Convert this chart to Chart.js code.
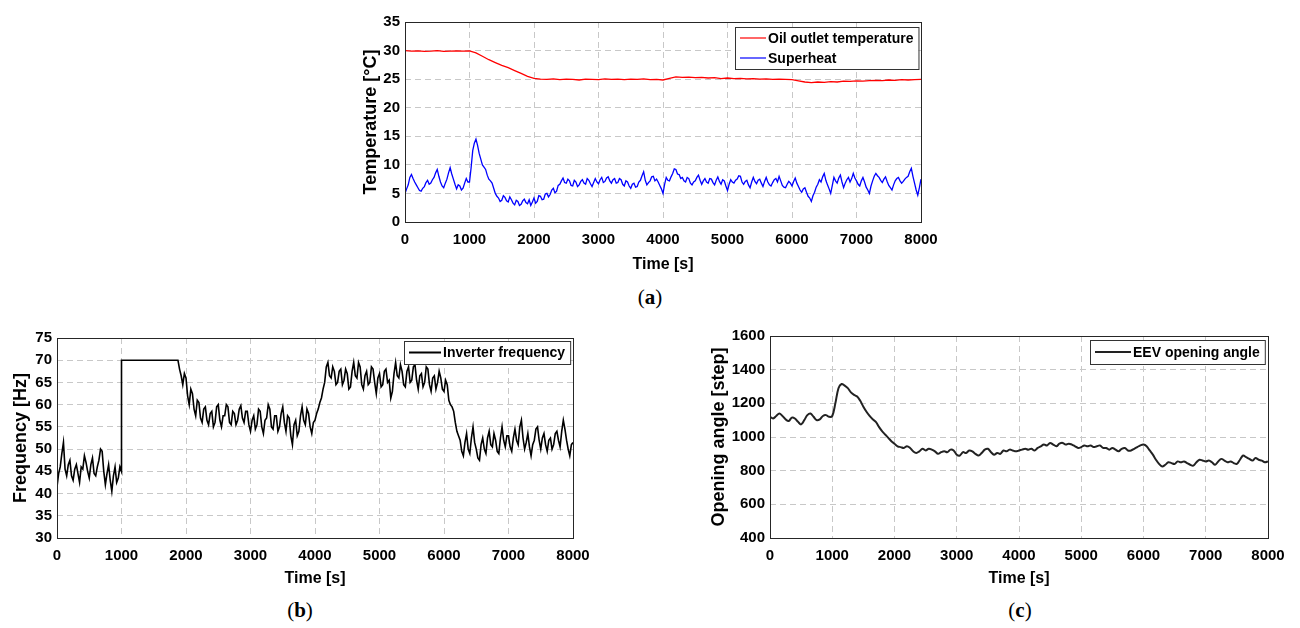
<!DOCTYPE html>
<html>
<head>
<meta charset="utf-8">
<script src="https://cdn.jsdelivr.net/npm/chart.js@4"></script>
<style>
    body { margin: 0; background: #fff; width: 1300px; height: 628px; position: relative; overflow: hidden; }
    canvas { position: absolute; }
    .caption { position: absolute; font-family: "Liberation Serif", "DejaVu Serif", serif; font-size: 21px; color: #000; transform: translate(-50%, -50%); }
</style>
</head>
<body>
<canvas id="tempCanvas" width="595" height="276" style="left:356px; top:2px;"></canvas>
<canvas id="freqCanvas" width="597" height="274" style="left:6px; top:318px;"></canvas>
<canvas id="eevCanvas" width="594" height="276" style="left:704px; top:316px;"></canvas>
<div class="caption" style="left:650px; top:297px;">(<b>a</b>)</div>
<div class="caption" style="left:300px; top:610px;">(<b>b</b>)</div>
<div class="caption" style="left:1020px; top:610px;">(<b>c</b>)</div>

<script>
// time grids [s]
const time25 = Array.from({ length: 321 }, (_, i) => i * 25);
const time50 = Array.from({ length: 161 }, (_, i) => i * 50);
const time100 = Array.from({ length: 81 }, (_, i) => i * 100);
// frequency jumps at 1000 s, so 1000 appears twice
const freqTime = [...time25.slice(0, 41), 1000, ...time25.slice(41)];

const xTicks = [0, 1000, 2000, 3000, 4000, 5000, 6000, 7000, 8000];

// (a) oil outlet temperature [°C], every 100 s
const oilTemp = [
    30.0, 29.9, 29.95, 29.85, 29.9, 30.0, 29.85, 29.9, 29.95, 29.9,
    29.95, 29.6, 29.0, 28.4, 27.9, 27.4, 27.0, 26.5, 26.0, 25.5,
    25.15, 25.0, 24.95, 25.05, 24.9, 25.0, 24.95, 24.85, 25.0, 24.95,
    24.9, 25.05, 24.95, 25.0, 24.9, 25.0, 24.95, 25.05, 24.9, 24.95,
    24.85, 25.15, 25.4, 25.3, 25.35, 25.25, 25.3, 25.2, 25.25, 25.1,
    25.2, 25.1, 25.15, 25.05, 25.1, 25.0, 25.05, 24.95, 25.0, 24.95,
    24.9, 24.7, 24.5, 24.4, 24.5, 24.45, 24.55, 24.5, 24.65, 24.6,
    24.7, 24.65, 24.75, 24.8, 24.75, 24.85, 24.8, 24.9, 24.85, 24.9,
    24.95
];

// (a) superheat [°C], every 25 s
const superheat = [
    5.0, 5.8, 6.5, 7.8, 8.3, 7.6, 7.0, 6.5, 6.0, 5.5, 5.4, 5.9, 6.2, 6.9, 7.3, 6.6, 6.8, 7.4, 7.8, 8.6,
    9.2, 8.0, 7.0, 6.3, 6.0, 6.8, 7.5, 8.6, 9.5, 8.4, 7.5, 6.6, 5.8, 6.5, 6.3, 5.6, 5.9, 6.8, 7.6, 7.0,
    7.0, 9.5, 12.5, 13.8, 14.5, 13.4, 12.0, 11.0, 10.0, 9.6, 9.2, 8.2, 7.5, 7.2, 6.8, 5.9, 5.0, 4.5, 4.2, 3.6,
    3.8, 4.6, 4.3, 3.7, 3.5, 4.4, 3.9, 3.3, 3.0, 3.8, 3.6, 2.9, 3.1, 3.7, 4.0, 3.4, 3.2, 3.9, 2.9, 3.5,
    4.2, 3.3, 3.6, 4.6, 4.5, 3.9, 4.0, 4.9, 5.0, 4.4, 4.8, 5.6, 5.9, 5.1, 5.4, 6.4, 6.6, 7.2, 7.7, 6.9,
    6.8, 7.5, 7.2, 6.4, 6.3, 7.3, 7.0, 6.2, 6.5, 7.1, 7.4, 6.8, 6.6, 7.6, 7.3, 6.7, 6.2, 6.9, 7.6, 7.0,
    6.7, 7.4, 7.8, 6.9, 7.1, 7.7, 7.9, 7.2, 6.8, 7.4, 7.6, 6.8, 6.9, 7.6, 7.4, 6.6, 6.3, 7.2, 7.0, 6.3,
    5.9, 6.6, 6.8, 6.1, 6.2, 7.0, 7.3, 8.1, 8.8, 7.3, 6.5, 6.9, 7.2, 7.9, 8.0, 7.2, 7.5, 7.0, 6.4, 5.8,
    5.0, 6.6, 7.8, 7.3, 7.2, 7.9, 8.5, 9.3, 9.2, 8.4, 8.3, 7.6, 7.8, 7.2, 7.0, 7.8, 7.6, 6.8, 6.5, 7.0,
    7.2, 7.8, 8.2, 7.3, 6.6, 7.2, 7.6, 7.0, 6.8, 7.6, 7.5, 6.9, 6.5, 7.3, 7.9, 7.1, 6.6, 7.4, 7.2, 6.3,
    5.5, 6.6, 7.4, 7.0, 6.8, 7.3, 7.5, 8.1, 8.0, 7.0, 6.6, 7.1, 7.3, 6.5, 6.0, 7.0, 7.8, 7.1, 6.7, 7.3,
    7.5, 6.8, 6.2, 7.1, 7.8, 7.0, 6.5, 6.3, 6.9, 7.4, 7.6, 7.0, 8.0, 7.2, 6.4, 6.1, 6.0, 6.6, 7.1, 6.8,
    6.3, 7.1, 7.7, 6.8, 6.2, 5.6, 5.2, 5.8, 6.0, 5.2, 4.5, 4.2, 3.6, 4.6, 5.2, 6.1, 6.6, 7.4, 7.0, 7.9,
    8.5, 7.3, 6.5, 5.8, 5.0, 6.4, 7.8, 7.2, 6.8, 7.7, 8.2, 7.0, 6.0, 6.8, 7.4, 7.8, 7.0, 7.6, 8.5, 7.7,
    7.2, 6.6, 6.3, 7.2, 7.8, 7.0, 6.1, 5.6, 5.0, 6.3, 7.2, 8.0, 8.5, 8.1, 7.8, 7.3, 6.9, 7.5, 7.9, 7.1,
    6.4, 6.0, 5.6, 6.5, 7.2, 7.6, 7.8, 7.2, 6.8, 7.1, 7.5, 7.8, 8.0, 8.8, 9.4, 8.0, 6.8, 5.6, 4.7, 6.0,
    7.5
];

// (b) inverter frequency [Hz], on freqTime
const inverterFreq = [
    41.5, 44.5, 46, 49, 51.5, 45.5, 44, 46.5, 47.5, 44, 43, 45.5, 46.5, 44.5, 42.5, 46, 45.5, 48.5, 47, 45,
    43.5, 46.5, 48, 44.5, 44, 46, 47.5, 50, 49.5, 45, 42, 44.5, 46.5, 43, 40.5, 44, 46, 42.5, 43.5, 46,
    45,
    70, 70, 70, 70, 70, 70, 70, 70, 70, 70, 70, 70, 70, 70, 70, 70, 70, 70,
    70, 70, 70, 70, 70, 70, 70, 70, 70, 70, 70, 70, 70, 70, 70, 70, 70, 70,
    68, 66.5, 64.5, 67,
    66, 62, 60, 63.5, 62.5, 59, 57.5, 61, 60.5, 57, 56, 59, 59.5, 56.5, 55.5, 58, 58.5, 55, 56, 59.5,
    60, 56.5, 55, 57.5, 57.5, 60, 59.5, 56, 55.5, 58.5, 58, 55.5, 56.5, 59, 59.8, 57, 56, 58.5, 58.5, 55.5,
    54, 56.5, 57.5, 54.5, 55.5, 59, 58.5, 55, 53.5, 56.5, 57, 60, 59, 55, 54.5, 57.5, 57.5, 54, 55, 58,
    59.5, 56, 54, 57.5, 57, 53, 51, 55.5, 56.5, 53, 54, 57.5, 59.5, 56.5, 55.5, 59, 58, 55, 53.5, 56,
    56.5, 58, 59, 60.5, 61.5, 63.5, 65, 68.5, 69.5, 66.5, 66, 68.5, 67.5, 64.5, 65, 67.5, 68, 64.5, 65.5, 68,
    67, 63.5, 64, 67.5, 69.5, 66.5, 66, 69.5, 68.5, 64.5, 63.5, 66.5, 67.5, 64.5, 65, 68.5, 68, 65, 62.5, 66,
    67, 64, 64.5, 67.5, 68, 65, 65.5, 61.5, 63, 67, 69.5, 66.5, 66, 69, 67.5, 64.5, 64, 67.5, 68.5, 65,
    65.5, 68.5, 69, 65.5, 63.5, 66.5, 67, 64, 65, 68.5, 68, 64.5, 63, 66, 66.5, 63.5, 65, 67.5, 66, 63.5,
    63, 65.5, 64.5, 61, 60, 59.5, 58.5, 56, 54, 53, 52, 49.5, 48.5, 51.5, 53.5, 50, 49, 52.5, 55, 51.5,
    50, 48, 47.5, 51, 52.5, 50, 49, 52.5, 54, 51, 50.5, 53.5, 52, 49.5, 49, 52.5, 55, 52, 50.5, 53,
    53, 50.5, 49.5, 52.5, 54.5, 52, 51, 55, 56.5, 52.5, 50, 51.5, 53.5, 50.5, 48.5, 51, 52, 54.5, 55, 52,
    50, 52.5, 53.5, 51, 49.5, 52, 52.5, 50, 51, 53.5, 54, 52, 50.5, 54, 56.5, 54.5, 52, 50, 48.5, 51,
    51.5
];

// (c) EEV opening angle [step], every 50 s
const eevAngle = [
    1120, 1110, 1125, 1140, 1125, 1105, 1095, 1115, 1110, 1090, 1075, 1100, 1130, 1140, 1120, 1100, 1105, 1125, 1130, 1120,
    1125, 1200, 1290, 1315, 1305, 1290, 1265, 1250, 1240, 1215, 1180, 1150, 1125, 1105, 1090, 1060, 1035, 1015, 995, 975,
    960, 945, 940, 935, 945, 935, 915, 905, 915, 930, 920, 930, 925, 915, 900, 910, 915, 910, 925, 920,
    895, 890, 910, 905, 920, 915, 900, 890, 905, 925, 930, 910, 895, 905, 900, 920, 915, 925, 920, 915,
    920, 925, 930, 925, 930, 920, 935, 945, 955, 950, 965, 955, 945, 960, 965, 955, 960, 955, 945, 935,
    940, 950, 945, 950, 940, 945, 950, 935, 935, 925, 935, 925, 915, 930, 935, 920, 920, 930, 940, 950,
    955, 945, 920, 895, 865, 840, 825, 835, 850, 845, 840, 855, 850, 855, 845, 835, 830, 850, 865, 860,
    855, 860, 850, 835, 855, 870, 860, 850, 855, 845, 840, 865, 890, 880, 870, 860, 875, 865, 860, 850,
    855
];

const TICK_FONT = { family: 'Liberation Sans, Arial, sans-serif', size: 15, weight: 'bold' };
const X_TITLE_FONT = { family: 'Liberation Sans, Arial, sans-serif', size: 16, weight: 'bold' };
const Y_TITLE_FONT = { family: 'Liberation Sans, Arial, sans-serif', size: 18, weight: 'bold' };

function toPoints(xs, ys) {
    return ys.map((y, i) => ({ x: xs[i], y: y }));
}

// legend drawn inside the plot, top right, with a thin frame
const boxLegend = {
    id: 'boxLegend',
    afterDatasetsDraw(chart, args, opts) {
        const { ctx, chartArea } = chart;
        const items = chart.data.datasets;
        ctx.save();
        ctx.font = opts.font;
        const textW = Math.max(...items.map(d => ctx.measureText(d.label).width));
        const w = 5 + opts.lineLen + 3 + textW + 4;
        const h = items.length * opts.rowH + 2;
        const x = Math.round(chartArea.right - opts.right - w);
        const y = Math.round(chartArea.top + opts.top);
        ctx.fillStyle = '#fff';
        ctx.fillRect(x, y, w, h);
        ctx.strokeStyle = '#333';
        ctx.lineWidth = 1;
        ctx.strokeRect(x + 0.5, y + 0.5, w, h);
        items.forEach((d, i) => {
            const cy = y + 1 + opts.rowH * (i + 0.5);
            ctx.strokeStyle = d.borderColor;
            ctx.lineWidth = opts.lineWidth;
            ctx.beginPath();
            ctx.moveTo(x + 5, cy);
            ctx.lineTo(x + 5 + opts.lineLen, cy);
            ctx.stroke();
            ctx.fillStyle = '#000';
            ctx.textBaseline = 'middle';
            ctx.fillText(d.label, x + 5 + opts.lineLen + 2, cy + 1);
        });
        ctx.restore();
    }
};

// solid box round the axes, MATLAB style
const axesBox = {
    id: 'axesBox',
    afterDraw(chart) {
        const { ctx, chartArea } = chart;
        ctx.save();
        ctx.strokeStyle = '#262626';
        ctx.lineWidth = 1;
        ctx.strokeRect(chartArea.left + 0.5, chartArea.top + 0.5, chartArea.width, chartArea.height);
        ctx.restore();
    }
};

function makeChart(canvasId, datasets, cfg) {
    const ctx = document.getElementById(canvasId).getContext('2d');
    return new Chart(ctx, {
        type: 'line',
        data: { datasets: datasets },
        options: {
            responsive: false,
            animation: false,
            devicePixelRatio: 1,
            layout: { padding: { top: 20, right: 30, left: 0, bottom: 0 } },
            elements: { point: { radius: 0 } },
            plugins: {
                legend: { display: false },
                tooltip: { enabled: false },
                boxLegend: cfg.legend
            },
            scales: {
                x: {
                    type: 'linear',
                    min: 0,
                    max: 8000,
                    afterBuildTicks: scale => { scale.ticks = xTicks.map(v => ({ value: v })); },
                    afterFit: scale => { scale.height = cfg.xHeight; },
                    ticks: { font: TICK_FONT, color: '#000', padding: 9, maxRotation: 0, autoSkip: false, callback: v => String(v) },
                    grid: { color: '#c8c8c8', drawTicks: false },
                    border: { display: false, dash: [6, 4] },
                    title: { display: true, text: 'Time [s]', font: X_TITLE_FONT, color: '#000', padding: { top: 2, bottom: 4 } }
                },
                y: {
                    min: cfg.yMin,
                    max: cfg.yMax,
                    afterBuildTicks: scale => { scale.ticks = cfg.yTicks.map(v => ({ value: v })); },
                    afterFit: scale => { scale.width = cfg.yWidth; },
                    ticks: { font: TICK_FONT, color: '#000', padding: 5, autoSkip: false, callback: v => String(v) },
                    grid: { color: '#c8c8c8', drawTicks: false },
                    border: { display: false, dash: [6, 4] },
                    title: { display: true, text: cfg.yTitle, font: Y_TITLE_FONT, color: '#000', padding: { top: 4, bottom: 2 } }
                }
            }
        },
        plugins: [boxLegend, axesBox]
    });
}

makeChart('tempCanvas', [
    {
        label: 'Oil outlet temperature',
        data: toPoints(time100, oilTemp),
        borderColor: '#ff0000',
        borderWidth: 1.3,
        tension: 0
    },
    {
        label: 'Superheat',
        data: toPoints(time25, superheat),
        borderColor: '#0000ff',
        borderWidth: 1.3,
        tension: 0
    }
], {
    xHeight: 56, yWidth: 49,
    yMin: 0, yMax: 35, yTicks: [0, 5, 10, 15, 20, 25, 30, 35],
    yTitle: 'Temperature [°C]',
    legend: { font: 'bold 14px "Liberation Sans", Arial, sans-serif', lineLen: 26, rowH: 20, lineWidth: 1.2, right: 3, top: 5 }
});

makeChart('freqCanvas', [
    {
        label: 'Inverter frequency',
        data: toPoints(freqTime, inverterFreq),
        borderColor: '#000000',
        borderWidth: 1.6,
        tension: 0
    }
], {
    xHeight: 54, yWidth: 51,
    yMin: 30, yMax: 75, yTicks: [30, 35, 40, 45, 50, 55, 60, 65, 70, 75],
    yTitle: 'Frequency [Hz]',
    legend: { font: 'bold 14px "Liberation Sans", Arial, sans-serif', lineLen: 32, rowH: 21, lineWidth: 2, right: 3, top: 3 }
});

makeChart('eevCanvas', [
    {
        label: 'EEV opening angle',
        data: toPoints(time50, eevAngle),
        borderColor: '#222222',
        borderWidth: 2,
        tension: 0.35
    }
], {
    xHeight: 54, yWidth: 66,
    yMin: 400, yMax: 1600, yTicks: [400, 600, 800, 1000, 1200, 1400, 1600],
    yTitle: 'Opening angle [step]',
    legend: { font: 'bold 14px "Liberation Sans", Arial, sans-serif', lineLen: 36, rowH: 22, lineWidth: 2, right: 3, top: 4 }
});
</script>
</body>
</html>
